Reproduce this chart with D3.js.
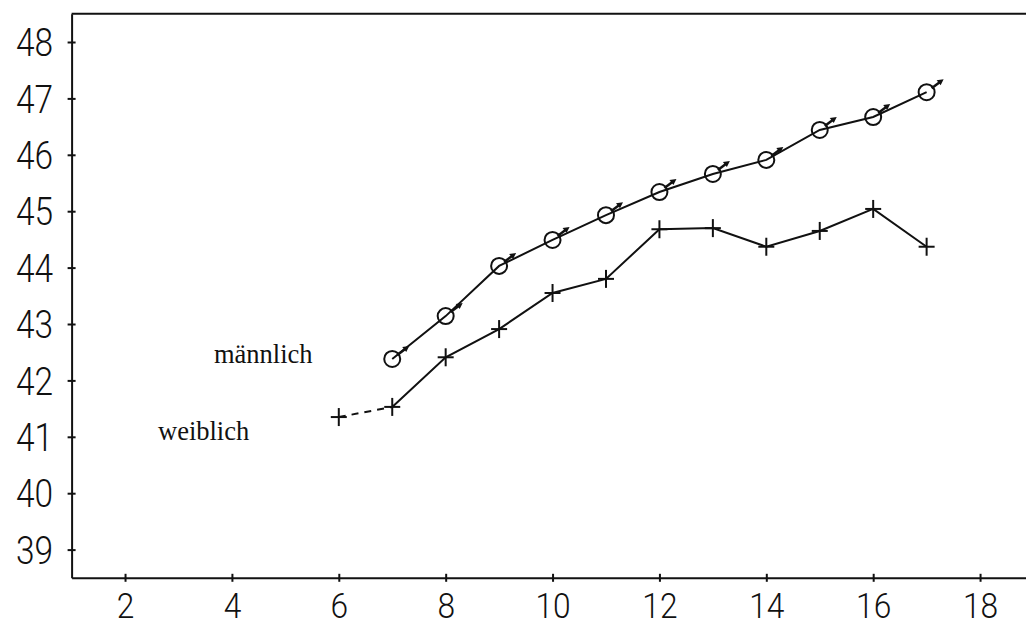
<!DOCTYPE html>
<html><head><meta charset="utf-8">
<script src="https://cdn.jsdelivr.net/npm/d3@7"></script>
<style>body{margin:0;background:#fff}svg{display:block}</style>
</head><body>
<svg id="chart" width="1026" height="627"></svg>
<script>
const ages = [7, 8, 9, 10, 11, 12, 13, 14, 15, 16, 17];
const maleValues = [42.38, 43.14, 44.03, 44.49, 44.93, 45.34, 45.66, 45.91, 46.44, 46.67, 47.11];
const femaleAges = [6, 7, 8, 9, 10, 11, 12, 13, 14, 15, 16, 17];
const femaleValues = [41.35, 41.53, 42.41, 42.91, 43.55, 43.80, 44.68, 44.70, 44.37, 44.65, 45.04, 44.37];
const xTicks = [2, 4, 6, 8, 10, 12, 14, 16, 18];
const yTicks = [39, 40, 41, 42, 43, 44, 45, 46, 47, 48];
const seriesLabels = ["männlich", "weiblich"];

const svg = d3.select("#chart");
const ink = "#111";
const x = d3.scaleLinear().domain([1, 19]).range([71.6, 1033.5]);
const y = d3.scaleLinear().domain([38.5, 48.5]).range([577.8, 13.8]);

// top border
svg.append("line").attr("x1", x(1)).attr("x2", 1026).attr("y1", y(48.5)).attr("y2", y(48.5))
  .attr("stroke", ink).attr("stroke-width", 2);

const axisFont = "Roboto, 'DejaVu Sans', sans-serif";

const gy = svg.append("g").attr("transform", `translate(${x(1)},0)`)
  .call(d3.axisLeft(y).tickValues(yTicks).tickSize(0).tickSizeOuter(0).tickPadding(0));
gy.select(".domain").attr("stroke", ink).attr("stroke-width", 2);
gy.selectAll(".tick").append("line").attr("x1", -4).attr("x2", 4).attr("stroke", ink).attr("stroke-width", 2);
gy.selectAll(".tick text").attr("x", -21).attr("dy", "0.36em")
  .attr("transform", "scale(0.88,1)")
  .style("font-family", axisFont).style("font-weight", 300).style("font-size", "38px").attr("fill", ink);

const gx = svg.append("g").attr("transform", `translate(0,${y(38.5)})`)
  .call(d3.axisBottom(x).tickValues(xTicks).tickSize(0).tickSizeOuter(0).tickPadding(0));
gx.select(".domain").attr("stroke", ink).attr("stroke-width", 2);
gx.selectAll(".tick").append("line").attr("y1", -4).attr("y2", 4).attr("stroke", ink).attr("stroke-width", 2);
gx.selectAll(".tick text").attr("y", 40).attr("dy", 0)
  .attr("transform", "scale(0.88,1)")
  .style("font-family", axisFont).style("font-weight", 300).style("font-size", "36px").attr("fill", ink);

const male = ages.map((a, i) => ({a, v: maleValues[i]}));
const female = femaleAges.map((a, i) => ({a, v: femaleValues[i]}));
const line = d3.line().x(d => x(d.a)).y(d => y(d.v));

svg.append("path").datum(male).attr("d", line).attr("fill", "none").attr("stroke", ink).attr("stroke-width", 2);
svg.append("path").datum(female.slice(1)).attr("d", line).attr("fill", "none").attr("stroke", ink).attr("stroke-width", 2);
svg.append("path").datum(female.slice(0, 2)).attr("d", line).attr("fill", "none").attr("stroke", ink)
  .attr("stroke-width", 2).attr("stroke-dasharray", "7,6");

// male markers: circle + arrow (♂)
const mg = svg.append("g").selectAll("g").data(male).join("g")
  .attr("transform", d => `translate(${x(d.a)},${y(d.v)})`);
mg.append("circle").attr("r", 8).attr("fill", "none").attr("stroke", ink).attr("stroke-width", 2);
mg.append("line").attr("x1", 5).attr("y1", -4).attr("x2", 13).attr("y2", -10).attr("stroke", ink).attr("stroke-width", 2.5);
mg.append("path").attr("d", "M17,-13 L10,-12 L14,-7 Z").attr("fill", ink);

// female markers: plus
const fg = svg.append("g").selectAll("g").data(female).join("g")
  .attr("transform", d => `translate(${x(d.a)},${y(d.v)})`);
fg.append("line").attr("x1", -8).attr("x2", 8).attr("stroke", ink).attr("stroke-width", 2);
fg.append("line").attr("y1", -9).attr("y2", 9).attr("stroke", ink).attr("stroke-width", 2);

// series labels
svg.append("text").attr("x", 214).attr("y", 363).text(seriesLabels[0])
  .style("font-family", "'Liberation Serif', 'Times New Roman', serif").style("font-size", "26.5px").attr("fill", ink);
svg.append("text").attr("x", 158).attr("y", 440).text(seriesLabels[1])
  .style("font-family", "'Liberation Serif', 'Times New Roman', serif").style("font-size", "26.5px").attr("fill", ink);
</script>
</body></html>
